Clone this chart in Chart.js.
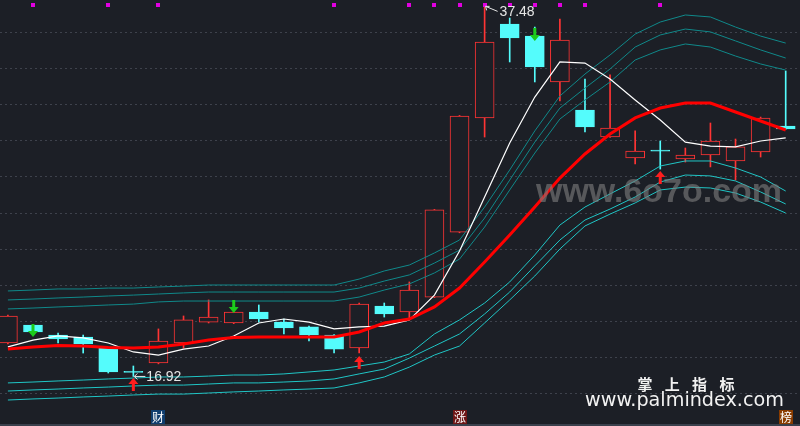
<!DOCTYPE html>
<html>
<head>
<meta charset="utf-8">
<script src="https://cdn.jsdelivr.net/npm/chart.js@4.4.1/dist/chart.umd.min.js"></script>
<style>
html,body{margin:0;padding:0;background:#1c1f26;}
#wrap{width:800px;height:426px;position:relative;}
</style>
</head>
<body>
<div id="wrap"><canvas id="myChart"></canvas></div>
<script>
// ---------------- candles (open / high / low / close)
var open_p  = [18.78, 19.78, 19.22, 19.11, 18.50, 17.15, 17.67, 18.78, 19.94, 19.89, 20.50, 19.94, 19.67, 19.22, 18.50, 20.83,
               20.50, 21.33, 24.94, 31.28, 36.50, 35.83, 33.28, 31.72, 30.22, 29.06, 29.44, 29.00, 29.22, 28.89, 29.39, 30.83];
var high_p  = [20.33, 19.80, 19.33, 19.22, 18.50, 17.50, 19.56, 20.28, 21.17, 20.55, 20.89, 20.11, 19.72, 19.25, 21.00, 21.00,
               22.17, 26.20, 31.42, 37.48, 36.83, 36.33, 36.78, 33.44, 33.67, 30.56, 30.00, 29.61, 31.00, 30.11, 31.33, 33.89];
var low_p   = [18.72, 19.36, 18.78, 18.22, 17.11, 16.92, 17.62, 18.50, 19.89, 19.85, 19.94, 19.28, 18.89, 18.22, 18.22, 20.22,
               20.17, 21.30, 24.90, 30.22, 34.39, 33.28, 32.22, 30.50, 30.20, 28.72, 28.44, 28.83, 28.56, 27.83, 29.11, 30.65];
var close_p = [20.28, 19.39, 19.00, 18.72, 17.17, 17.15, 18.89, 20.06, 20.22, 20.50, 20.11, 19.61, 19.22, 18.44, 20.94, 20.39,
               21.72, 26.17, 31.39, 35.50, 35.72, 34.11, 35.61, 30.78, 30.72, 29.44, 29.44, 29.22, 30.00, 29.67, 31.28, 30.67];

// ---------------- moving averages
var ma_white = [18.56, 18.94, 19.17, 19.06, 18.78, 18.28, 18.11, 18.44, 18.61, 19.17, 19.89, 20.11, 19.94, 19.56, 19.67, 19.72,
                20.06, 21.44, 23.89, 26.89, 29.89, 32.44, 34.39, 34.33, 33.44, 32.28, 31.17, 29.94, 29.72, 29.67, 30.00, 30.17];
var ma_red   = [18.44, 18.56, 18.64, 18.61, 18.53, 18.50, 18.56, 18.72, 18.94, 19.08, 19.11, 19.11, 19.11, 19.11, 19.39, 19.89,
                20.11, 20.78, 21.83, 23.28, 24.78, 26.33, 27.94, 29.28, 30.39, 31.28, 31.83, 32.11, 32.11, 31.61, 31.11, 30.61];

// ---------------- bands (3 above, 3 below)
var up1 = [21.67, 21.72, 21.78, 21.78, 21.83, 21.83, 21.89, 21.94, 22.00, 22.00, 22.00, 22.00, 22.00, 22.00, 22.33, 22.78,
           23.11, 23.78, 24.50, 26.33, 28.39, 30.56, 32.50, 33.72, 34.78, 35.94, 36.61, 37.00, 36.89, 36.33, 35.83, 35.44];
var up2 = [21.17, 21.22, 21.28, 21.33, 21.39, 21.44, 21.50, 21.56, 21.61, 21.61, 21.61, 21.61, 21.61, 21.61, 21.83, 22.22,
           22.56, 23.22, 23.94, 25.72, 27.83, 29.94, 31.83, 32.94, 34.00, 35.22, 35.89, 36.22, 36.06, 35.56, 35.06, 34.61];
var up3 = [20.67, 20.72, 20.78, 20.83, 20.89, 20.94, 21.06, 21.11, 21.11, 21.11, 21.11, 21.11, 21.11, 21.11, 21.33, 21.72,
           22.06, 22.67, 23.44, 25.22, 27.28, 29.33, 31.22, 32.28, 33.28, 34.50, 35.06, 35.39, 35.22, 34.72, 34.28, 33.94];
var dn1 = [16.56, 16.61, 16.67, 16.72, 16.78, 16.83, 16.89, 16.89, 16.94, 17.00, 17.00, 17.06, 17.17, 17.28, 17.50, 17.72,
           18.17, 19.28, 20.06, 21.00, 22.17, 23.67, 25.33, 26.33, 27.06, 27.78, 28.61, 28.89, 28.89, 28.50, 28.00, 27.22];
var dn2 = [16.11, 16.17, 16.22, 16.28, 16.33, 16.39, 16.44, 16.44, 16.50, 16.56, 16.56, 16.61, 16.67, 16.78, 17.06, 17.33,
           17.94, 18.61, 19.28, 20.39, 21.61, 23.06, 24.50, 25.61, 26.22, 26.89, 27.72, 28.11, 28.06, 27.78, 27.17, 26.50];
var dn3 = [15.61, 15.67, 15.72, 15.78, 15.83, 15.89, 15.94, 15.94, 16.00, 16.06, 16.11, 16.17, 16.22, 16.28, 16.56, 16.89,
           17.44, 18.11, 18.61, 19.89, 21.17, 22.50, 24.00, 25.28, 25.94, 26.56, 27.28, 27.44, 27.39, 27.11, 26.61, 26.00];

// ---------------- signals
var sell_idx = [1, 9, 21];
var sell_val = [19.11, 20.44, 35.56];
var buy_idx  = [5, 14, 26];
var buy_val  = [16.83, 18.06, 28.33];
var dot_idx  = [1, 4, 6, 13, 16, 17, 18, 19, 20, 21, 22, 23, 26];
var tag_idx  = [6, 18, 31];
var tag_text = ['财', '涨', '榜'];
var tag_bg   = ['#0f3d6e', '#6e1616', '#8a3c00'];
var y_ticks  = [16, 18, 20, 22, 24, 26, 28, 30, 32, 34, 36];

var BG = '#1c1f26';
var RED = '#ff3434';
var CYAN = '#54fcfc';

var wicks = [], bodies = [], wickColors = [], bodyFill = [], bodyLine = [];
for (var i = 0; i < open_p.length; i++) {
    var up = close_p[i] > open_p[i];
    wicks.push({x: i, y: [low_p[i], high_p[i]]});
    bodies.push({x: i, y: [open_p[i], close_p[i]]});
    wickColors.push(up ? RED : CYAN);
    bodyFill.push(up ? BG : CYAN);
    bodyLine.push(up ? RED : CYAN);
}

function toXY(arr) {
    return arr.map(function (v, i) { return {x: i, y: v}; });
}

function lineSet(arr, color, width, order) {
    return {
        type: 'line', data: toXY(arr), borderColor: color, borderWidth: width,
        pointRadius: 0, tension: 0, fill: false, order: order
    };
}

function drawArrow(ctx, x, tip, dir, color) {
    // dir 1 = pointing down, -1 = pointing up
    ctx.fillStyle = color;
    ctx.beginPath();
    ctx.moveTo(x, tip);
    ctx.lineTo(x - 5, tip - dir * 6);
    ctx.lineTo(x - 1.5, tip - dir * 6);
    ctx.lineTo(x - 1.5, tip - dir * 13);
    ctx.lineTo(x + 1.5, tip - dir * 13);
    ctx.lineTo(x + 1.5, tip - dir * 6);
    ctx.lineTo(x + 5, tip - dir * 6);
    ctx.closePath();
    ctx.fill();
}

function fitText(ctx, txt, family, weight, width) {
    ctx.font = weight + ' 20px ' + family;
    var w = ctx.measureText(txt).width;
    ctx.font = weight + ' ' + (20 * width / w).toFixed(2) + 'px ' + family;
}

const overlay = {
    id: 'overlay',
    afterDatasetsDraw(chart) {
        const ctx = chart.ctx, xs = chart.scales.x, ys = chart.scales.y;
        ctx.save();

        // purple markers on top row
        ctx.fillStyle = '#e100e1';
        dot_idx.forEach(function (i) {
            var x = Math.round(xs.getPixelForValue(i));
            ctx.fillRect(x - 2, 3, 4, 4);
        });

        sell_idx.forEach(function (i, k) {
            drawArrow(ctx, xs.getPixelForValue(i), ys.getPixelForValue(sell_val[k]), 1, '#1ccc1c');
        });
        buy_idx.forEach(function (i, k) {
            drawArrow(ctx, xs.getPixelForValue(i), ys.getPixelForValue(buy_val[k]), -1, '#ff1e1e');
        });

        // high / low labels
        var hi = high_p.indexOf(Math.max.apply(null, high_p));
        var lo = low_p.indexOf(Math.min.apply(null, low_p));
        ctx.strokeStyle = '#e6e6e6';
        ctx.fillStyle = '#e6e6e6';
        ctx.lineWidth = 1;
        ctx.font = '14px "Liberation Sans", Arial, sans-serif';
        ctx.textBaseline = 'middle';
        ctx.textAlign = 'left';

        var hx = xs.getPixelForValue(hi), hy = ys.getPixelForValue(high_p[hi]);
        ctx.beginPath();
        ctx.moveTo(hx + 1, hy); ctx.lineTo(hx + 13, hy + 5);
        ctx.moveTo(hx + 1, hy); ctx.lineTo(hx + 5, hy);
        ctx.moveTo(hx + 1, hy); ctx.lineTo(hx + 2, hy + 4);
        ctx.stroke();
        ctx.fillText(high_p[hi].toFixed(2), hx + 15, hy + 6);

        var lx = xs.getPixelForValue(lo), ly = ys.getPixelForValue(low_p[lo]);
        ctx.beginPath();
        ctx.moveTo(lx + 1, ly); ctx.lineTo(lx + 12, ly);
        ctx.moveTo(lx + 1, ly); ctx.lineTo(lx + 4, ly - 3);
        ctx.moveTo(lx + 1, ly); ctx.lineTo(lx + 4, ly + 3);
        ctx.stroke();
        ctx.fillText(low_p[lo].toFixed(2), lx + 13, ly + 1);

        // watermark
        ctx.fillStyle = 'rgba(125,125,125,0.62)';
        ctx.textBaseline = 'alphabetic';
        fitText(ctx, 'www.6o7o.com', '"Liberation Sans", Arial, sans-serif', 'bold', 246);
        ctx.fillText('www.6o7o.com', 536, 202);

        ctx.fillStyle = '#f2f2f2';
        ctx.textAlign = 'center';
        ctx.font = 'bold 15px "Noto Sans CJK SC", sans-serif';
        ['掌', '上', '指', '标'].forEach(function (c, k) {
            ctx.fillText(c, 645 + k * 27.3, 390);
        });
        ctx.textAlign = 'left';
        fitText(ctx, 'www.palmindex.com', '"DejaVu Sans", sans-serif', 'normal', 199);
        ctx.fillText('www.palmindex.com', 585, 406);

        // bottom line and tags
        ctx.fillStyle = '#3a404c';
        ctx.fillRect(0, 424, chart.width, 2);
        ctx.textAlign = 'center';
        ctx.textBaseline = 'middle';
        ctx.font = '12px "Noto Sans CJK SC", sans-serif';
        tag_idx.forEach(function (i, k) {
            var x = Math.round(xs.getPixelForValue(i));
            ctx.fillStyle = tag_bg[k];
            ctx.fillRect(x - 7, 410, 14, 14);
            ctx.fillStyle = '#ffffff';
            ctx.fillText(tag_text[k], x, 417);
        });
        ctx.restore();
    }
};

const config = {
    type: 'bar',
    data: {
        datasets: [
            lineSet(ma_red, '#ff0000', 3, 1),
            lineSet(ma_white, '#ffffff', 1.2, 2),
            lineSet(up1, '#10898a', 1, 3),
            lineSet(up2, '#10898a', 1, 3),
            lineSet(up3, '#10898a', 1, 3),
            lineSet(dn1, '#20c6c6', 1, 3),
            lineSet(dn2, '#20c6c6', 1, 3),
            lineSet(dn3, '#20c6c6', 1, 3),
            {
                type: 'bar', data: bodies, backgroundColor: bodyFill, borderColor: bodyLine,
                borderWidth: 1, borderSkipped: false, grouped: false, minBarLength: 1,
                barPercentage: 1, categoryPercentage: 1, maxBarThickness: 19, order: 8
            },
            {
                type: 'bar', data: wicks, backgroundColor: wickColors, borderWidth: 0,
                grouped: false, barPercentage: 1, categoryPercentage: 1, maxBarThickness: 1, order: 9
            }
        ]
    },
    options: {
        responsive: true,
        maintainAspectRatio: false,
        animation: false,
        layout: {padding: 0},
        plugins: {legend: {display: false}, tooltip: {enabled: false}},
        scales: {
            x: {type: 'linear', min: -0.315, max: 31.57, offset: false, display: false},
            y: {
                type: 'linear', min: 14.1667, max: 37.8333,
                afterBuildTicks: function (scale) {
                    scale.ticks = y_ticks.map(function (v) { return {value: v}; });
                },
                ticks: {display: false},
                grid: {color: '#3e424c', drawTicks: false, lineWidth: 1},
                border: {display: false, dash: [2, 3]}
            }
        }
    },
    plugins: [overlay]
};

const myChart = new Chart(document.getElementById('myChart'), config);
</script>
</body>
</html>
